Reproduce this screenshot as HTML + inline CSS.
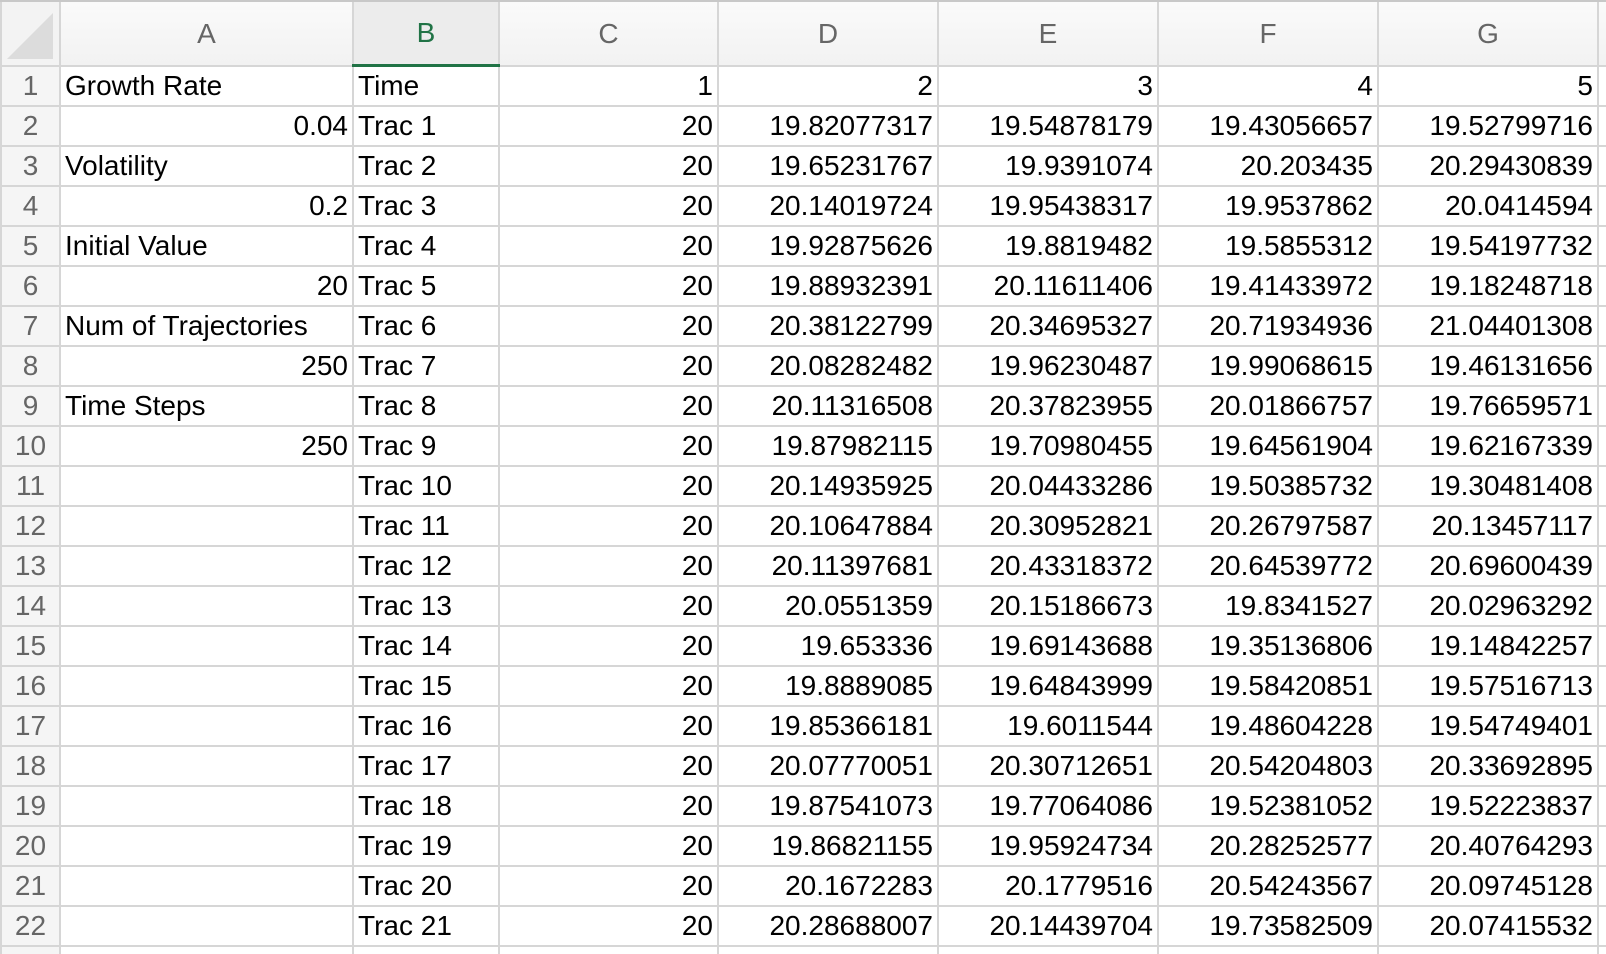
<!DOCTYPE html>
<html><head><meta charset="utf-8"><style>
html,body{margin:0;padding:0;background:#fff;width:1606px;height:954px;overflow:hidden;position:relative;}
body{font-family:"Liberation Sans",Arial,sans-serif;}
#topline{position:absolute;left:0;top:0;width:1606px;height:2px;background:#c8c8c8;}
table{position:absolute;left:0;top:2px;border-collapse:collapse;table-layout:fixed;width:1637px;}
td,th{border:2px solid #d6d6d6;padding:0 4px;height:38px;font-size:28px;font-weight:normal;color:#000;white-space:nowrap;overflow:hidden;line-height:38px;vertical-align:bottom;}
th{height:62px;background:linear-gradient(#fafafa,#f2f2f2);color:#666;text-align:center;line-height:62px;border-top:none;}
th.sel{color:#217346;border-bottom:3px solid #217346;background:#ececec;}
td.rh{background:#f5f5f5;color:#666;text-align:center;padding:0;}
td.n{text-align:right;}
.corner{background:#f3f3f3;position:relative;}
.tri{position:absolute;right:6px;bottom:6px;width:0;height:0;border-left:46px solid transparent;border-bottom:46px solid #dcdcdc;}
</style></head><body>
<div id="topline"></div>
<table>
<colgroup><col style="width:59px"><col style="width:293px"><col style="width:146px"><col style="width:219px"><col style="width:220px"><col style="width:220px"><col style="width:220px"><col style="width:220px"><col style="width:40px"></colgroup>
<tr>
<th class="corner"><div class="tri"></div></th>
<th>A</th>
<th class="sel">B</th>
<th>C</th>
<th>D</th>
<th>E</th>
<th>F</th>
<th>G</th>
<th></th>
</tr>
<tr><td class="rh">1</td><td>Growth Rate</td><td>Time</td><td class="n">1</td><td class="n">2</td><td class="n">3</td><td class="n">4</td><td class="n">5</td><td></td></tr>
<tr><td class="rh">2</td><td class="n">0.04</td><td>Trac 1</td><td class="n">20</td><td class="n">19.82077317</td><td class="n">19.54878179</td><td class="n">19.43056657</td><td class="n">19.52799716</td><td></td></tr>
<tr><td class="rh">3</td><td>Volatility</td><td>Trac 2</td><td class="n">20</td><td class="n">19.65231767</td><td class="n">19.9391074</td><td class="n">20.203435</td><td class="n">20.29430839</td><td></td></tr>
<tr><td class="rh">4</td><td class="n">0.2</td><td>Trac 3</td><td class="n">20</td><td class="n">20.14019724</td><td class="n">19.95438317</td><td class="n">19.9537862</td><td class="n">20.0414594</td><td></td></tr>
<tr><td class="rh">5</td><td>Initial Value</td><td>Trac 4</td><td class="n">20</td><td class="n">19.92875626</td><td class="n">19.8819482</td><td class="n">19.5855312</td><td class="n">19.54197732</td><td></td></tr>
<tr><td class="rh">6</td><td class="n">20</td><td>Trac 5</td><td class="n">20</td><td class="n">19.88932391</td><td class="n">20.11611406</td><td class="n">19.41433972</td><td class="n">19.18248718</td><td></td></tr>
<tr><td class="rh">7</td><td>Num of Trajectories</td><td>Trac 6</td><td class="n">20</td><td class="n">20.38122799</td><td class="n">20.34695327</td><td class="n">20.71934936</td><td class="n">21.04401308</td><td></td></tr>
<tr><td class="rh">8</td><td class="n">250</td><td>Trac 7</td><td class="n">20</td><td class="n">20.08282482</td><td class="n">19.96230487</td><td class="n">19.99068615</td><td class="n">19.46131656</td><td></td></tr>
<tr><td class="rh">9</td><td>Time Steps</td><td>Trac 8</td><td class="n">20</td><td class="n">20.11316508</td><td class="n">20.37823955</td><td class="n">20.01866757</td><td class="n">19.76659571</td><td></td></tr>
<tr><td class="rh">10</td><td class="n">250</td><td>Trac 9</td><td class="n">20</td><td class="n">19.87982115</td><td class="n">19.70980455</td><td class="n">19.64561904</td><td class="n">19.62167339</td><td></td></tr>
<tr><td class="rh">11</td><td></td><td>Trac 10</td><td class="n">20</td><td class="n">20.14935925</td><td class="n">20.04433286</td><td class="n">19.50385732</td><td class="n">19.30481408</td><td></td></tr>
<tr><td class="rh">12</td><td></td><td>Trac 11</td><td class="n">20</td><td class="n">20.10647884</td><td class="n">20.30952821</td><td class="n">20.26797587</td><td class="n">20.13457117</td><td></td></tr>
<tr><td class="rh">13</td><td></td><td>Trac 12</td><td class="n">20</td><td class="n">20.11397681</td><td class="n">20.43318372</td><td class="n">20.64539772</td><td class="n">20.69600439</td><td></td></tr>
<tr><td class="rh">14</td><td></td><td>Trac 13</td><td class="n">20</td><td class="n">20.0551359</td><td class="n">20.15186673</td><td class="n">19.8341527</td><td class="n">20.02963292</td><td></td></tr>
<tr><td class="rh">15</td><td></td><td>Trac 14</td><td class="n">20</td><td class="n">19.653336</td><td class="n">19.69143688</td><td class="n">19.35136806</td><td class="n">19.14842257</td><td></td></tr>
<tr><td class="rh">16</td><td></td><td>Trac 15</td><td class="n">20</td><td class="n">19.8889085</td><td class="n">19.64843999</td><td class="n">19.58420851</td><td class="n">19.57516713</td><td></td></tr>
<tr><td class="rh">17</td><td></td><td>Trac 16</td><td class="n">20</td><td class="n">19.85366181</td><td class="n">19.6011544</td><td class="n">19.48604228</td><td class="n">19.54749401</td><td></td></tr>
<tr><td class="rh">18</td><td></td><td>Trac 17</td><td class="n">20</td><td class="n">20.07770051</td><td class="n">20.30712651</td><td class="n">20.54204803</td><td class="n">20.33692895</td><td></td></tr>
<tr><td class="rh">19</td><td></td><td>Trac 18</td><td class="n">20</td><td class="n">19.87541073</td><td class="n">19.77064086</td><td class="n">19.52381052</td><td class="n">19.52223837</td><td></td></tr>
<tr><td class="rh">20</td><td></td><td>Trac 19</td><td class="n">20</td><td class="n">19.86821155</td><td class="n">19.95924734</td><td class="n">20.28252577</td><td class="n">20.40764293</td><td></td></tr>
<tr><td class="rh">21</td><td></td><td>Trac 20</td><td class="n">20</td><td class="n">20.1672283</td><td class="n">20.1779516</td><td class="n">20.54243567</td><td class="n">20.09745128</td><td></td></tr>
<tr><td class="rh">22</td><td></td><td>Trac 21</td><td class="n">20</td><td class="n">20.28688007</td><td class="n">20.14439704</td><td class="n">19.73582509</td><td class="n">20.07415532</td><td></td></tr>
<tr><td class="rh"></td><td></td><td></td><td></td><td></td><td></td><td></td><td></td><td></td></tr>
</table>
</body></html>
